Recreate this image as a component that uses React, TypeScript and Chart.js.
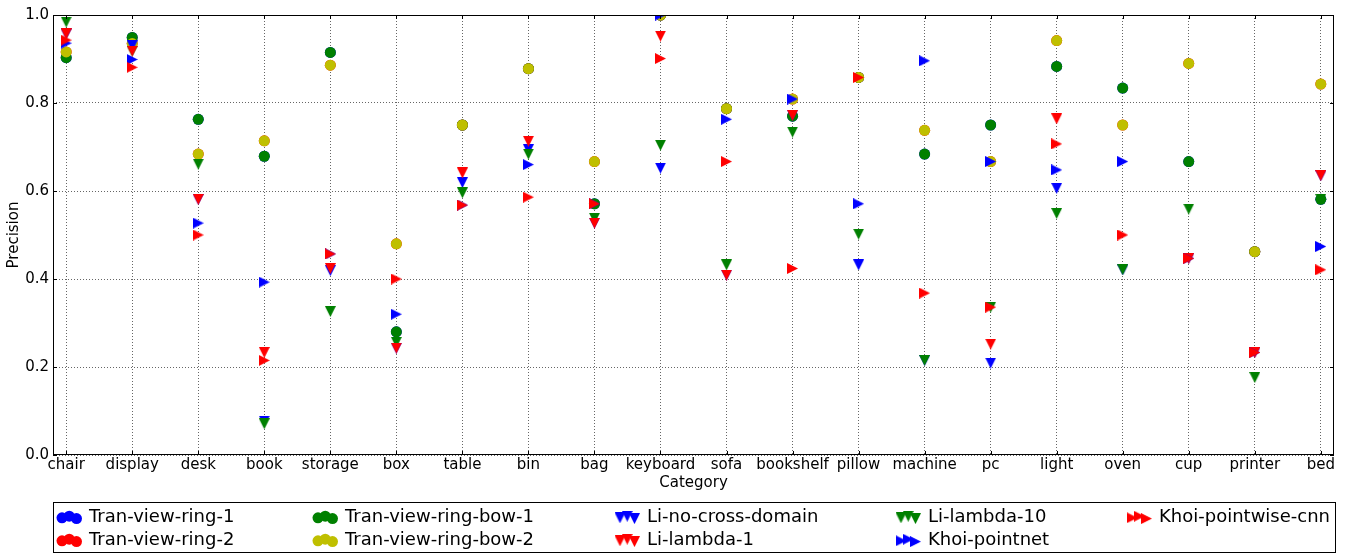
import React, { useEffect, useRef } from 'react';
import { Chart, registerables } from 'chart.js';

Chart.register(...registerables);

const categories = ['chair', 'display', 'desk', 'book', 'storage', 'box', 'table', 'bin', 'bag', 'keyboard', 'sofa', 'bookshelf', 'pillow', 'machine', 'pc', 'light', 'oven', 'cup', 'printer', 'bed'];
const yTickValues = [0, 0.2, 0.4, 0.6, 0.8, 1.0];

const tranViewRing1 = [0.903, 0.949, 0.763, 0.679, 0.915, 0.280, 0.750, 0.878, 0.571, 1.000, 0.787, 0.770, 0.858, 0.684, 0.750, 0.883, 0.834, 0.667, 0.462, 0.581];
const tranViewRing2 = [0.916, 0.935, 0.684, 0.714, 0.886, 0.480, 0.750, 0.878, 0.667, 1.000, 0.787, 0.809, 0.858, 0.738, 0.667, 0.942, 0.750, 0.890, 0.462, 0.843];
const tranViewRingBow1 = [0.903, 0.949, 0.763, 0.679, 0.915, 0.280, 0.750, 0.878, 0.571, 1.000, 0.787, 0.770, 0.858, 0.684, 0.750, 0.883, 0.834, 0.667, 0.462, 0.581];
const tranViewRingBow2 = [0.916, 0.935, 0.684, 0.714, 0.886, 0.480, 0.750, 0.878, 0.667, 1.000, 0.787, 0.809, 0.858, 0.738, 0.667, 0.942, 0.750, 0.890, 0.462, 0.843];
const liNoCrossDomain = [0.957, 0.930, 0.581, 0.077, 0.419, 0.243, 0.619, 0.694, 0.527, 0.652, 0.409, 0.772, 0.432, 0.215, 0.209, 0.606, 0.421, 0.447, 0.233, 0.635];
const liLambda10 = [0.984, 0.918, 0.661, 0.071, 0.326, 0.256, 0.596, 0.684, 0.538, 0.704, 0.432, 0.734, 0.502, 0.215, 0.336, 0.549, 0.421, 0.559, 0.176, 0.581];
const liLambda1: (number | null)[] = [0.957, 0.918, 0.581, 0.233, 0.424, 0.243, 0.641, 0.713, 0.527, 0.952, 0.409, 0.772, null, null, 0.252, 0.764, null, 0.447, 0.233, 0.635];
const khoiPointnet = [0.936, 0.899, 0.527, 0.393, 0.457, 0.320, 0.568, 0.660, 0.571, 1.000, 0.763, 0.809, 0.571, 0.896, 0.667, 0.648, 0.667, 0.447, 0.233, 0.474];
const khoiPointwiseCnn = [0.943, 0.881, 0.500, 0.215, 0.457, 0.400, 0.568, 0.586, 0.571, 0.901, 0.667, 0.424, 0.858, 0.368, 0.336, 0.707, 0.500, 0.447, 0.233, 0.421];

const BLUE = '#0000ff';
const RED = '#ff0000';
const GREEN = '#008000';
const YELLOW = '#bfbf00';

type Marker = 'circle' | 'down' | 'right';
interface Series { name: string; values: (number | null)[]; color: string; marker: Marker; }

// drawing order (later drawn on top)
const seriesList: Series[] = [
  { name: 'Tran-view-ring-1', values: tranViewRing1, color: BLUE, marker: 'circle' },
  { name: 'Tran-view-ring-2', values: tranViewRing2, color: RED, marker: 'circle' },
  { name: 'Tran-view-ring-bow-1', values: tranViewRingBow1, color: GREEN, marker: 'circle' },
  { name: 'Tran-view-ring-bow-2', values: tranViewRingBow2, color: YELLOW, marker: 'circle' },
  { name: 'Li-no-cross-domain', values: liNoCrossDomain, color: BLUE, marker: 'down' },
  { name: 'Li-lambda-10', values: liLambda10, color: GREEN, marker: 'down' },
  { name: 'Li-lambda-1', values: liLambda1, color: RED, marker: 'down' },
  { name: 'Khoi-pointnet', values: khoiPointnet, color: BLUE, marker: 'right' },
  { name: 'Khoi-pointwise-cnn', values: khoiPointwiseCnn, color: RED, marker: 'right' },
];

// legend order (column-major, 5 columns x 2 rows)
const legendOrder = [
  ['Tran-view-ring-1', 'Tran-view-ring-2'],
  ['Tran-view-ring-bow-1', 'Tran-view-ring-bow-2'],
  ['Li-no-cross-domain', 'Li-lambda-1'],
  ['Li-lambda-10', 'Khoi-pointnet'],
  ['Khoi-pointwise-cnn'],
];

const FONT = '"DejaVu Sans", "Liberation Sans", sans-serif';
const MARKER = 11;

const imgCache: Record<string, HTMLCanvasElement> = {};
function triangleImage(color: string, dir: 'down' | 'right'): HTMLCanvasElement {
  const key = color + dir;
  if (imgCache[key]) return imgCache[key];
  const c = document.createElement('canvas');
  c.width = MARKER;
  c.height = MARKER;
  const g = c.getContext('2d')!;
  g.fillStyle = color;
  g.beginPath();
  if (dir === 'down') {
    g.moveTo(0, 0);
    g.lineTo(MARKER, 0);
    g.lineTo(MARKER / 2, MARKER);
  } else {
    g.moveTo(0, 0);
    g.lineTo(MARKER, MARKER / 2);
    g.lineTo(0, MARKER);
  }
  g.closePath();
  g.fill();
  imgCache[key] = c;
  return c;
}

function drawMarker(ctx: CanvasRenderingContext2D, s: Series, x: number, y: number) {
  if (s.marker === 'circle') {
    ctx.fillStyle = s.color;
    ctx.beginPath();
    ctx.arc(x, y, MARKER / 2, 0, Math.PI * 2);
    ctx.fill();
  } else {
    const img = triangleImage(s.color, s.marker);
    ctx.drawImage(img, x - MARKER / 2, y - MARKER / 2);
  }
}

const framePlugin = {
  id: 'frameAndLegend',
  afterDraw(chart: any) {
    const ctx: CanvasRenderingContext2D = chart.ctx;
    const { left, right, top, bottom } = chart.chartArea;
    const xs = chart.scales.x;
    const ys = chart.scales.y;
    ctx.save();
    ctx.strokeStyle = '#000';
    ctx.lineWidth = 1;
    ctx.strokeRect(Math.round(left) + 0.5, Math.round(top) + 0.5, Math.round(right - left) - 1, Math.round(bottom - top) - 1);
    // inward ticks
    ctx.beginPath();
    categories.forEach((_, i) => {
      const px = Math.round(xs.getPixelForValue(i)) + 0.5;
      ctx.moveTo(px, bottom);
      ctx.lineTo(px, bottom - 4);
      ctx.moveTo(px, top);
      ctx.lineTo(px, top + 4);
    });
    yTickValues.forEach((v) => {
      const py = Math.round(ys.getPixelForValue(v)) + 0.5;
      ctx.moveTo(left, py);
      ctx.lineTo(left + 4, py);
      ctx.moveTo(right, py);
      ctx.lineTo(right - 4, py);
    });
    ctx.stroke();

    // legend
    const box = { left: 53, top: 502, right: 1335, bottom: 552 };
    ctx.strokeStyle = '#000';
    ctx.strokeRect(box.left + 0.5, box.top + 0.5, box.right - box.left, box.bottom - box.top);
    const textX = [89, 345, 647, 928, 1159];
    const baselines = [522, 545];
    const dx = [-27, -19.75, -12.5];
    const dy = [1.6, 0, 2.4];
    ctx.font = '18px ' + FONT;
    ctx.textBaseline = 'alphabetic';
    ctx.textAlign = 'left';
    legendOrder.forEach((col, ci) => {
      col.forEach((name, ri) => {
        const s = seriesList.find((q) => q.name === name)!;
        const cy = baselines[ri] - 5.8;
        for (let k = 0; k < 3; k++) {
          drawMarker(ctx, s, textX[ci] + dx[k], cy + dy[k]);
        }
        ctx.fillStyle = '#000';
        ctx.fillText(name, textX[ci], baselines[ri]);
      });
    });
    ctx.restore();
  },
};

export default function App() {
  const ref = useRef<HTMLCanvasElement | null>(null);
  useEffect(() => {
    if (!ref.current) return;
    const n = seriesList.length;
    const datasets = seriesList.map((s, i) => ({
      label: s.name,
      data: s.values.map((v, j) => ({ x: j, y: v })),
      order: n - i,
      pointStyle: s.marker === 'circle' ? 'circle' : triangleImage(s.color, s.marker),
      pointRadius: MARKER / 2,
      pointBorderWidth: 0,
      pointBackgroundColor: s.color,
      pointBorderColor: s.color,
      showLine: false,
    }));
    const chart = new Chart(ref.current, {
      type: 'scatter',
      data: { datasets },
      plugins: [framePlugin],
      options: {
        animation: false,
        responsive: false,
        events: [],
        layout: { padding: { left: 0, top: 15, right: 24, bottom: 0 } },
        plugins: { legend: { display: false }, tooltip: { enabled: false } },
        scales: {
          x: {
            type: 'linear',
            min: -0.2,
            max: 19.2,
            afterBuildTicks: (scale: any) => {
              scale.ticks = categories.map((_, i) => ({ value: i }));
            },
            afterFit: (scale: any) => {
              scale.height = 99;
            },
            ticks: {
              autoSkip: false,
              maxRotation: 0,
              minRotation: 0,
              padding: 1,
              color: '#000',
              font: { family: FONT, size: 15 },
              callback: (v: any) => categories[Math.round(Number(v))] ?? '',
            },
            grid: { color: 'rgba(0,0,0,0.6)', lineWidth: 1, drawTicks: false },
            border: { display: false, dash: [1, 2] },
            title: {
              display: true,
              text: 'Category',
              color: '#000',
              font: { family: FONT, size: 15 },
              padding: { top: 0, bottom: 62 },
            },
          },
          y: {
            min: 0,
            max: 1,
            afterBuildTicks: (scale: any) => {
              scale.ticks = yTickValues.map((v) => ({ value: v }));
            },
            afterFit: (scale: any) => {
              scale.width = 53;
            },
            ticks: {
              padding: 4,
              color: '#000',
              font: { family: FONT, size: 15 },
              callback: (v: any) => Number(v).toFixed(1),
            },
            grid: { color: 'rgba(0,0,0,0.6)', lineWidth: 1, drawTicks: false },
            border: { display: false, dash: [1, 2] },
            title: {
              display: true,
              text: 'Precision',
              color: '#000',
              font: { family: FONT, size: 15 },
              padding: { top: 5, bottom: 0 },
            },
          },
        },
      } as any,
    });
    return () => chart.destroy();
  }, []);
  return (
    <div style={{ position: 'fixed', left: 0, top: 0, width: 1358, height: 554, background: '#fff' }}>
      <canvas ref={ref} width={1358} height={554} style={{ display: 'block' }} />
    </div>
  );
}
